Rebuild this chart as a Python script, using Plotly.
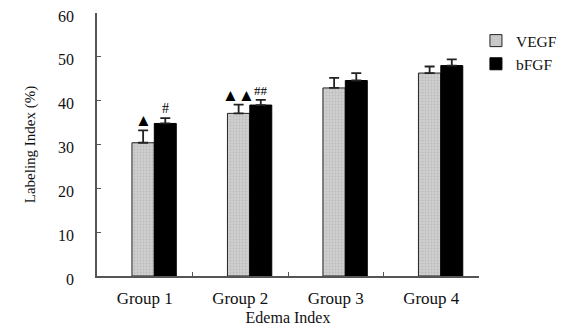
import plotly.graph_objects as go

groups = ["Group 1", "Group 2", "Group 3", "Group 4"]
vegf = [30.4, 37.1, 42.9, 46.3]
vegf_err = [2.8, 2.0, 2.3, 1.5]
bfgf = [34.8, 39.0, 44.6, 48.0]
bfgf_err = [1.2, 1.2, 1.7, 1.4]
y_ticks = [0, 10, 20, 30, 40, 50, 60]

FONT = "Liberation Serif"

fig = go.Figure()
fig.add_trace(go.Bar(
    x=groups, y=vegf, name="VEGF",
    marker=dict(color="#c4c4c4", line=dict(color="#222", width=1),
                pattern=dict(shape=".", fgcolor="#a8a8a8", bgcolor="#cfcfcf", size=3, solidity=0.3)),
    width=0.234, offset=-0.134,
    error_y=dict(type="data", array=vegf_err, arrayminus=[0]*4, symmetric=False,
                 color="#222", thickness=1.8, width=5),
))
fig.add_trace(go.Bar(
    x=groups, y=bfgf, name="bFGF",
    marker=dict(color="#000000", line=dict(color="#000", width=1)),
    width=0.23, offset=0.1,
    error_y=dict(type="data", array=bfgf_err, arrayminus=[0]*4, symmetric=False,
                 color="#222", thickness=1.8, width=5),
))

# significance markers
ann = [
    dict(x=0, xshift=-1.5, y=vegf[0] + vegf_err[0], text="▲", yshift=10, size=17),
    dict(x=0, xshift=20.5, y=bfgf[0] + bfgf_err[0], text="#", yshift=10, size=14),
    dict(x=1, xshift=-10, y=vegf[1] + vegf_err[1], text="▲", yshift=9, size=17),
    dict(x=1, xshift=6, y=vegf[1] + vegf_err[1], text="▲", yshift=9, size=17),
    dict(x=1, xshift=21, y=bfgf[1] + bfgf_err[1], text="##", yshift=9, size=13),
]
for a in ann:
    fig.add_annotation(x=a["x"], y=a["y"], xref="x", yref="y", text=a["text"],
                       showarrow=False, xshift=a["xshift"], yshift=a["yshift"],
                       font=dict(family=FONT, size=a["size"], color="#000"))

# page body has an 8px margin, so the figure is sized/offset to compensate
fig.update_layout(
    width=565, height=325,
    margin=dict(l=89, r=94, t=5, b=57, autoexpand=False),
    paper_bgcolor="white", plot_bgcolor="white",
    font=dict(family=FONT, size=15, color="#111"),
    showlegend=True,
    legend=dict(x=0.992, y=0.958, xanchor="left", yanchor="top",
                font=dict(family=FONT, size=15.5, color="#111"),
                itemwidth=30, bgcolor="rgba(0,0,0,0)"),
    xaxis=dict(
        type="category", range=[-0.5, 3.5], automargin=False,
        showline=True, linecolor="#555", linewidth=1.5,
        ticks="inside", ticklen=4, tickcolor="#555", tickson="boundaries",
        showgrid=False, zeroline=False, ticklabelstandoff=6,
        ticklabeloverflow="allow",
        tickfont=dict(family=FONT, size=17, color="#111"),
        title=dict(text="Edema Index", font=dict(family=FONT, size=16, color="#111"), standoff=5),
    ),
    yaxis=dict(
        range=[0, 60], tickvals=y_ticks, automargin=False,
        showline=True, linecolor="#555", linewidth=1.5,
        ticks="inside", ticklen=4, tickcolor="#555",
        showgrid=False, zeroline=False, ticklabelstandoff=18,
        ticklabeloverflow="allow", ticklabelshift=3,
        tickfont=dict(family=FONT, size=16, color="#111"),
        title=dict(text="Labeling Index (%)", font=dict(family=FONT, size=15, color="#111"), standoff=19),
    ),
)

fig.write_html("out.html")
